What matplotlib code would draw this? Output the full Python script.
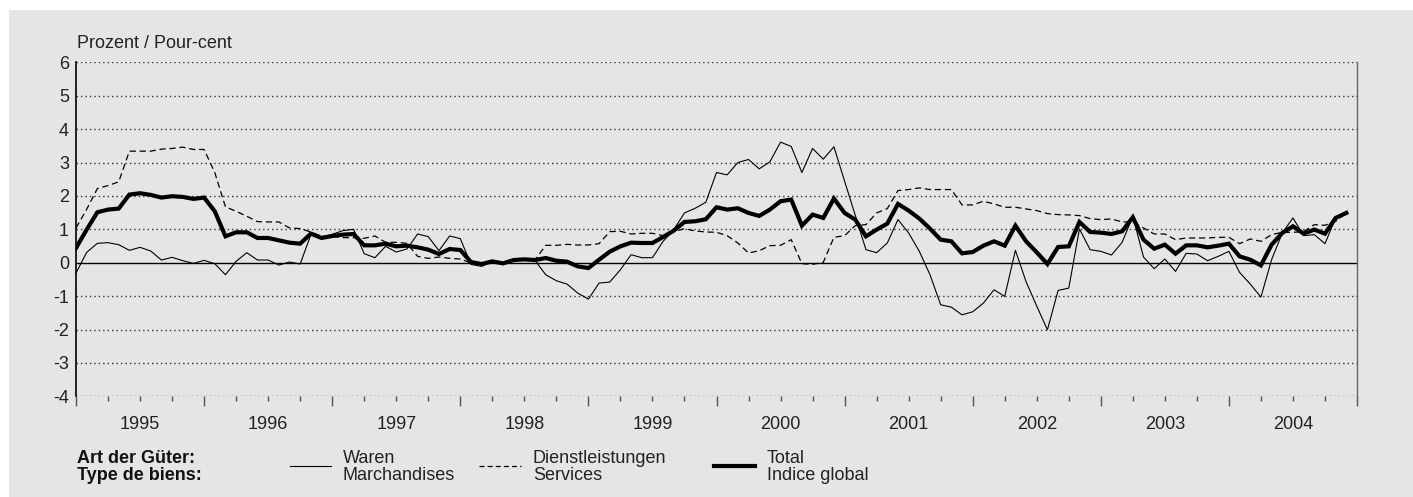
import matplotlib
matplotlib.use("Agg")
import matplotlib.pyplot as plt
from matplotlib.lines import Line2D
from matplotlib.patches import Rectangle
import numpy as np

plt.rcParams['font.family'] = ['Liberation Sans', 'DejaVu Sans']

# ---------------- data (monthly, Jan 1995 - Dec 2004) ----------------
start_year = 1995
years = [1995, 1996, 1997, 1998, 1999, 2000, 2001, 2002, 2003, 2004]

total = [0.44, 0.99, 1.51, 1.59, 1.62, 2.04, 2.08, 2.03, 1.95, 1.99, 1.97, 1.91,
         1.95, 1.54, 0.79, 0.91, 0.91, 0.74, 0.74, 0.67, 0.60, 0.57, 0.87, 0.74,
         0.80, 0.84, 0.86, 0.52, 0.52, 0.57, 0.49, 0.51, 0.46, 0.39, 0.26, 0.41,
         0.38, 0.02, -0.04, 0.04, -0.02, 0.08, 0.10, 0.08, 0.14, 0.06, 0.03, -0.11,
         -0.16, 0.09, 0.33, 0.49, 0.60, 0.59, 0.59, 0.77, 0.96, 1.22, 1.24, 1.30,
         1.66, 1.59, 1.63, 1.49, 1.40, 1.59, 1.84, 1.89, 1.11, 1.44, 1.34, 1.92,
         1.49, 1.29, 0.79, 0.99, 1.17, 1.76, 1.56, 1.32, 1.02, 0.69, 0.64, 0.28,
         0.32, 0.51, 0.64, 0.51, 1.11, 0.64, 0.31, -0.04, 0.47, 0.49, 1.22, 0.92,
         0.90, 0.86, 0.94, 1.36, 0.69, 0.42, 0.54, 0.27, 0.52, 0.52, 0.46, 0.51,
         0.57, 0.19, 0.09, -0.08, 0.54, 0.89, 1.09, 0.87, 0.99, 0.87, 1.34, 1.49]

services = [1.04, 1.60, 2.22, 2.31, 2.42, 3.34, 3.34, 3.34, 3.40, 3.42, 3.46, 3.39,
            3.39, 2.70, 1.67, 1.54, 1.39, 1.23, 1.22, 1.22, 1.04, 1.02, 0.92, 0.79,
            0.79, 0.75, 0.75, 0.73, 0.80, 0.61, 0.61, 0.58, 0.19, 0.13, 0.17, 0.13,
            0.11, -0.01, -0.03, 0.05, 0.00, 0.08, 0.08, 0.08, 0.52, 0.52, 0.55, 0.53,
            0.53, 0.57, 0.93, 0.94, 0.86, 0.88, 0.88, 0.81, 0.93, 1.02, 0.95, 0.92,
            0.91, 0.81, 0.59, 0.29, 0.36, 0.51, 0.52, 0.69, -0.03, -0.05, 0.01, 0.76,
            0.81, 1.11, 1.14, 1.49, 1.62, 2.16, 2.19, 2.24, 2.19, 2.19, 2.19, 1.73,
            1.73, 1.84, 1.76, 1.66, 1.66, 1.61, 1.56, 1.47, 1.44, 1.43, 1.41, 1.32,
            1.29, 1.31, 1.22, 1.22, 1.04, 0.86, 0.86, 0.69, 0.74, 0.74, 0.74, 0.76,
            0.76, 0.57, 0.71, 0.64, 0.84, 0.91, 0.91, 0.93, 1.14, 1.12, 1.24, 1.49]

goods = [-0.31, 0.31, 0.58, 0.60, 0.54, 0.37, 0.46, 0.35, 0.08, 0.16, 0.06, -0.02,
         0.07, -0.03, -0.36, 0.04, 0.30, 0.08, 0.08, -0.07, 0.02, -0.04, 0.84, 0.76,
         0.85, 0.96, 1.00, 0.27, 0.15, 0.49, 0.32, 0.41, 0.86, 0.78, 0.36, 0.80,
         0.72, -0.05, -0.11, 0.04, -0.01, 0.09, 0.11, 0.07, -0.36, -0.54, -0.64, -0.91,
         -1.09, -0.61, -0.58, -0.21, 0.24, 0.15, 0.15, 0.64, 0.99, 1.49, 1.63, 1.81,
         2.70, 2.63, 3.00, 3.09, 2.81, 3.02, 3.61, 3.48, 2.70, 3.42, 3.10, 3.47,
         2.44, 1.42, 0.39, 0.30, 0.59, 1.29, 0.89, 0.34, -0.36, -1.26, -1.33, -1.56,
         -1.47, -1.21, -0.81, -1.01, 0.37, -0.57, -1.30, -2.01, -0.83, -0.76, 1.01, 0.39,
         0.34, 0.23, 0.61, 1.39, 0.17, -0.18, 0.11, -0.26, 0.28, 0.26, 0.06, 0.19,
         0.34, -0.29, -0.64, -1.03, 0.09, 0.89, 1.34, 0.81, 0.84, 0.57, 1.34, 1.49]

y_ticks = [6, 5, 4, 3, 2, 1, 0, -1, -2, -3, -4]
y_label = "Prozent / Pour-cent"
legend_title = ["Art der Güter:", "Type de biens:"]
legend_entries = [("Waren", "Marchandises"),
                  ("Dienstleistungen", "Services"),
                  ("Total", "Indice global")]

# ---------------- figure ----------------
W, H = 1413, 497
fig = plt.figure(figsize=(W / 100, H / 100), dpi=100)
fig.patch.set_facecolor("white")
bg = "#e5e5e5"
fig.patches.append(Rectangle((9 / W, 0), 1 - 9 / W, 1 - 10 / H,
                             transform=fig.transFigure, facecolor=bg,
                             edgecolor="none", zorder=-10))

x0, x1 = 76 / W, 1357 / W
yb, yt = 1 - 396.3 / H, 1 - 62.3 / H
ax = fig.add_axes([x0, yb, x1 - x0, yt - yb])
ax.set_facecolor(bg)

x = start_year + np.arange(len(total)) / 12.0
ax.set_xlim(1995, 2005)
ax.set_ylim(-4, 6)

# gridlines
for v in y_ticks:
    if v == 0:
        ax.axhline(0, color="black", lw=1.0, zorder=2)
    else:
        ax.axhline(v, color="#333333", lw=1.0, ls=(0, (1, 2.2)), zorder=1)

ax.plot(x, goods, color="black", lw=0.8, zorder=3)
ax.plot(x, services, color="black", lw=0.9, ls=(0, (5, 3)), zorder=3)
ax.plot(x, total, color="black", lw=3.0, zorder=4, solid_joinstyle="miter")

# spines
for s in ["top", "bottom"]:
    ax.spines[s].set_visible(False)
ax.spines["left"].set_color("black")
ax.spines["left"].set_linewidth(1.2)
ax.spines["right"].set_color("#666666")
ax.spines["right"].set_linewidth(1.0)

ax.set_yticks(y_ticks)
ax.set_yticklabels([str(v) for v in y_ticks])
ax.tick_params(axis="y", length=0, pad=5, labelsize=13, labelcolor="#222222")

ax.set_xticks([float(y) for y in years] + [2005.0])
ax.set_xticklabels([])
ax.set_xticks(start_year + np.arange(0, 40) / 4.0, minor=True)
ax.tick_params(axis="x", which="major", length=7, width=1.0, color="#555555", direction="out")
ax.tick_params(axis="x", which="minor", length=3.5, width=1.0, color="#555555", direction="out")

for yr in years:
    ax.text(yr + 0.5, -4.6, str(yr), ha="center", va="top", fontsize=13, color="#222222")

fig.text(77 / W, 1 - 48 / H, y_label, fontsize=13, color="#222222", ha="left", va="baseline")

# legend
ly1, ly2 = 1 - 463 / H, 1 - 480 / H
lmid = 1 - 466 / H
fig.text(77 / W, ly1, legend_title[0], fontsize=13, fontweight="bold", color="#111111", va="baseline")
fig.text(77 / W, ly2, legend_title[1], fontsize=13, fontweight="bold", color="#111111", va="baseline")
samples = [(290, 331, dict(lw=0.8, ls="-")),
           (479, 521, dict(lw=0.9, ls=(0, (4, 2.5)))),
           (714, 755, dict(lw=3.0, ls="-"))]
text_x = [343, 533, 767]
for (a, b, kw), tx, (t1, t2) in zip(samples, text_x, legend_entries):
    fig.add_artist(Line2D([a / W, b / W], [lmid, lmid], color="black",
                          transform=fig.transFigure, **kw))
    fig.text(tx / W, ly1, t1, fontsize=13, color="#222222", va="baseline")
    fig.text(tx / W, ly2, t2, fontsize=13, color="#222222", va="baseline")

fig.savefig("out.png", dpi=100, facecolor=fig.get_facecolor())
